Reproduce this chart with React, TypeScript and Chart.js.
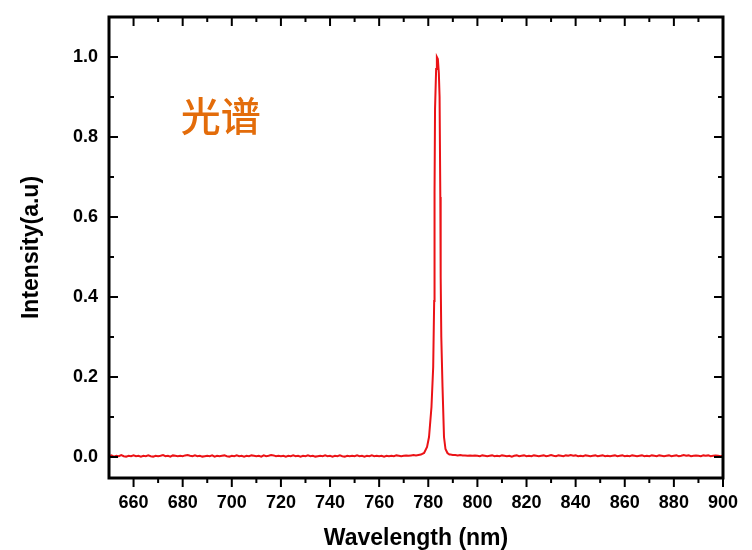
import React, { useEffect, useRef } from "react";
import { Chart, registerables } from "chart.js";

Chart.register(...registerables);

// ---- data ----
const leftBaseNm = [
  650, 651, 652, 653, 654, 655, 656, 657, 658, 659,
  660, 661, 662, 663, 664, 665, 666, 667, 668, 669,
  670, 671, 672, 673, 674, 675, 676, 677, 678, 679,
  680, 681, 682, 683, 684, 685, 686, 687, 688, 689,
  690, 691, 692, 693, 694, 695, 696, 697, 698, 699,
  700, 701, 702, 703, 704, 705, 706, 707, 708, 709,
  710, 711, 712, 713, 714, 715, 716, 717, 718, 719,
  720, 721, 722, 723, 724, 725, 726, 727, 728, 729,
  730, 731, 732, 733, 734, 735, 736, 737, 738, 739,
  740, 741, 742, 743, 744, 745, 746, 747, 748, 749,
  750, 751, 752, 753, 754, 755, 756, 757, 758, 759,
  760, 761, 762, 763, 764, 765, 766, 767, 768, 769,
  770, 771, 772, 773, 774, 775, 776, 777,
];
const leftBaseIntensity = [
  0.002, 0.004, 0.001, 0.003, 0.002, 0.005, 0.002, 0.001, 0.003, 0.002,
  0.004, 0.002, 0.003, 0.001, 0.003, 0.002, 0.004, 0.002, 0.001, 0.003,
  0.002, 0.003, 0.005, 0.002, 0.003, 0.001, 0.004, 0.003, 0.002, 0.003,
  0.002, 0.004, 0.005, 0.003, 0.002, 0.004, 0.002, 0.003, 0.001, 0.002,
  0.003, 0.002, 0.004, 0.001, 0.003, 0.002, 0.003, 0.004, 0.002, 0.001,
  0.003, 0.002, 0.004, 0.002, 0.003, 0.001, 0.003, 0.002, 0.004, 0.003,
  0.002, 0.003, 0.001, 0.004, 0.002, 0.003, 0.005, 0.004, 0.002, 0.003,
  0.002, 0.003, 0.001, 0.003, 0.002, 0.004, 0.002, 0.003, 0.001, 0.003,
  0.002, 0.004, 0.002, 0.003, 0.001, 0.002, 0.003, 0.002, 0.004, 0.002,
  0.003, 0.001, 0.003, 0.002, 0.004, 0.002, 0.001, 0.003, 0.002, 0.003,
  0.002, 0.004, 0.002, 0.003, 0.001, 0.003, 0.002, 0.004, 0.002, 0.003,
  0.002, 0.003, 0.001, 0.003, 0.002, 0.003, 0.002, 0.004, 0.003, 0.002,
  0.003, 0.004, 0.003, 0.004, 0.005, 0.004, 0.005, 0.006,
];
const peakNm = [
  778.3, 779.5, 780.3, 781.3, 782.0, 782.4, 782.55, 782.75, 783.2, 783.5,
  783.9, 784.3, 784.6, 784.9, 785.05, 785.3, 785.8, 786.4, 787.0, 787.8, 788.6,
];
const peakIntensity = [
  0.01, 0.025, 0.05, 0.125, 0.225, 0.39, 0.66, 0.87, 0.97, 1.0,
  0.995, 0.96, 0.9, 0.65, 0.45, 0.3, 0.175, 0.05, 0.02, 0.01, 0.006,
];
const rightBaseNm = [
  789, 790, 791, 792, 793, 794, 795, 796, 797, 798,
  799, 800, 801, 802, 803, 804, 805, 806, 807, 808,
  809, 810, 811, 812, 813, 814, 815, 816, 817, 818,
  819, 820, 821, 822, 823, 824, 825, 826, 827, 828,
  829, 830, 831, 832, 833, 834, 835, 836, 837, 838,
  839, 840, 841, 842, 843, 844, 845, 846, 847, 848,
  849, 850, 851, 852, 853, 854, 855, 856, 857, 858,
  859, 860, 861, 862, 863, 864, 865, 866, 867, 868,
  869, 870, 871, 872, 873, 874, 875, 876, 877, 878,
  879, 880, 881, 882, 883, 884, 885, 886, 887, 888,
  889, 890, 891, 892, 893, 894, 895, 896, 897, 898,
  899, 900,
];
const rightBaseIntensity = [
  0.006, 0.005, 0.005, 0.004, 0.005, 0.004, 0.004, 0.003, 0.004, 0.003,
  0.004, 0.003, 0.002, 0.004, 0.003, 0.002, 0.003, 0.004, 0.002, 0.003,
  0.002, 0.004, 0.003, 0.002, 0.003, 0.001, 0.003, 0.004, 0.002, 0.003,
  0.004, 0.002, 0.003, 0.002, 0.004, 0.003, 0.002, 0.003, 0.004, 0.002,
  0.003, 0.005, 0.003, 0.002, 0.004, 0.003, 0.002, 0.004, 0.003, 0.005,
  0.003, 0.004, 0.002, 0.003, 0.002, 0.004, 0.003, 0.002, 0.003, 0.004,
  0.002, 0.003, 0.004, 0.002, 0.003, 0.002, 0.003, 0.004, 0.002, 0.003,
  0.004, 0.002, 0.003, 0.002, 0.004, 0.003, 0.002, 0.003, 0.004, 0.002,
  0.003, 0.002, 0.004, 0.003, 0.002, 0.004, 0.003, 0.002, 0.003, 0.004,
  0.002, 0.003, 0.004, 0.002, 0.003, 0.005, 0.003, 0.004, 0.002, 0.003,
  0.004, 0.003, 0.002, 0.004, 0.003, 0.004, 0.002, 0.003, 0.004, 0.003,
  0.002, 0.003,
];

const xMajorTicks = [660, 680, 700, 720, 740, 760, 780, 800, 820, 840, 860, 880, 900];
const xMinorTicks = [670, 690, 710, 730, 750, 770, 790, 810, 830, 850, 870, 890];
const yMajorTicks = [0.0, 0.2, 0.4, 0.6, 0.8, 1.0];
const yMinorTicks = [0.1, 0.3, 0.5, 0.7, 0.9];

const xTitle = "Wavelength (nm)";
const yTitle = "Intensity(a.u)";
const labelText = "光谱";
const labelPos = { x: 695.5, y: 0.853 };

const FONT = "'Liberation Sans', Arial, sans-serif";

const framePlugin = {
  id: "originFrame",
  afterDraw(chart: any) {
    const { ctx, chartArea } = chart;
    const { left, right, top, bottom } = chartArea;
    const xs = chart.scales.x;
    const ys = chart.scales.y;
    ctx.save();
    ctx.strokeStyle = "#000";
    ctx.lineWidth = 2;
    const major = 9;
    const minor = 5;
    const drawX = (v: number, len: number) => {
      const px = xs.getPixelForValue(v);
      ctx.beginPath();
      ctx.moveTo(px, bottom);
      ctx.lineTo(px, bottom + len);
      ctx.moveTo(px, top);
      ctx.lineTo(px, top + len);
      ctx.stroke();
    };
    const drawY = (v: number, len: number) => {
      const py = ys.getPixelForValue(v);
      ctx.beginPath();
      ctx.moveTo(left, py);
      ctx.lineTo(left + len, py);
      ctx.moveTo(right, py);
      ctx.lineTo(right - len, py);
      ctx.stroke();
    };
    xMajorTicks.forEach((v) => drawX(v, major));
    xMinorTicks.forEach((v) => drawX(v, minor));
    yMajorTicks.forEach((v) => drawY(v, major));
    yMinorTicks.forEach((v) => drawY(v, minor));
    ctx.lineWidth = 3;
    ctx.lineJoin = "miter";
    ctx.strokeRect(left, top, right - left, bottom - top);

    // label
    ctx.fillStyle = "#E36C0A";
    ctx.font = "500 40px 'Noto Sans CJK SC', sans-serif";
    ctx.textAlign = "center";
    ctx.textBaseline = "middle";
    ctx.fillText(labelText, xs.getPixelForValue(labelPos.x), ys.getPixelForValue(labelPos.y));
    ctx.restore();
  },
};

export default function App() {
  const canvasRef = useRef<HTMLCanvasElement | null>(null);

  useEffect(() => {
    if (!canvasRef.current) return;
    const points: { x: number; y: number }[] = [];
    leftBaseNm.forEach((x, i) => points.push({ x, y: leftBaseIntensity[i] }));
    peakNm.forEach((x, i) => points.push({ x, y: peakIntensity[i] }));
    rightBaseNm.forEach((x, i) => points.push({ x, y: rightBaseIntensity[i] }));

    const chart = new Chart(canvasRef.current, {
      type: "line",
      data: {
        datasets: [
          {
            data: points,
            borderColor: "rgb(235, 18, 22)",
            borderWidth: 2,
            pointRadius: 0,
            tension: 0,
            fill: false,
          },
        ],
      },
      options: {
        animation: false,
        responsive: true,
        maintainAspectRatio: false,
        layout: { padding: { top: 17, right: 29, left: 0, bottom: 0 } },
        plugins: {
          legend: { display: false },
          tooltip: { enabled: false },
        },
        scales: {
          x: {
            type: "linear",
            position: "bottom",
            min: 650,
            max: 900,
            afterBuildTicks: (s: any) => {
              s.ticks = xMajorTicks.map((v) => ({ value: v }));
            },
            afterFit: (s: any) => {
              s.height = 72;
              s.paddingLeft = 0;
              s.paddingRight = 0;
            },
            grid: { display: false, drawTicks: false },
            border: { display: false },
            ticks: {
              color: "#000",
              font: { family: FONT, size: 18, weight: "bold" },
              padding: 14,
              maxRotation: 0,
              autoSkip: false,
            },
            title: {
              display: true,
              text: xTitle,
              color: "#000",
              font: { family: FONT, size: 23, weight: "bold", lineHeight: 1 },
              padding: { top: 0, bottom: 0 },
            },
          },
          y: {
            type: "linear",
            position: "left",
            min: -0.0525,
            max: 1.1,
            afterBuildTicks: (s: any) => {
              s.ticks = yMajorTicks.map((v) => ({ value: v }));
            },
            afterFit: (s: any) => {
              s.width = 109;
              s.paddingTop = 0;
              s.paddingBottom = 0;
            },
            grid: { display: false, drawTicks: false },
            border: { display: false },
            ticks: {
              color: "#000",
              font: { family: FONT, size: 18, weight: "bold" },
              padding: 11,
              callback: (v: any) => Number(v).toFixed(1),
            },
            title: {
              display: true,
              text: yTitle,
              color: "#000",
              font: { family: FONT, size: 23, weight: "bold", lineHeight: 1 },
              padding: { top: 20, bottom: 0 },
            },
          },
        },
      },
      plugins: [framePlugin],
    });
    return () => chart.destroy();
  }, []);

  return (
    <div style={{ position: "fixed", left: 0, top: 0, width: 752, height: 550, background: "#fff" }}>
      <canvas ref={canvasRef} />
    </div>
  );
}
